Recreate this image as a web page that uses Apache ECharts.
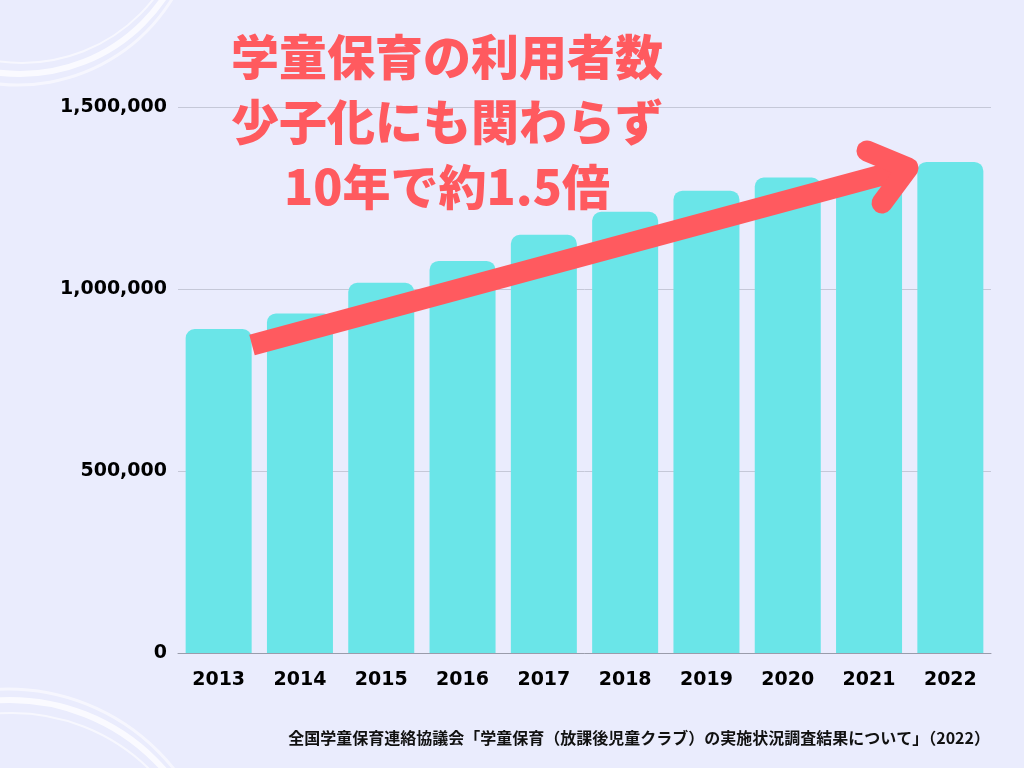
<!DOCTYPE html>
<html><head><meta charset="utf-8">
<script src="https://cdn.jsdelivr.net/npm/echarts@6/dist/echarts.min.js"></script>
<style>html,body{margin:0;padding:0;background:#eaecfd;}#c{width:1024px;height:768px;}</style>
</head><body><div id="c"></div>
<script>
const years = ['2013','2014','2015','2016','2017','2018','2019','2020','2021','2022'];
const users = [890000, 933000, 1017000, 1077000, 1149000, 1212000, 1270000, 1306000, 1300000, 1349000];
const yTicks = [0, 500000, 1000000, 1500000];
const titleLines = ['学童保育の利用者数', '少子化にも関わらず', '10年で約1.5倍'];
const sourceText = '全国学童保育連絡協議会「学童保育（放課後児童クラブ）の実施状況調査結果について」（2022）';

const chart = echarts.init(document.getElementById('c'), null, {renderer: 'canvas'});
const arcStyle = (w, o) => ({stroke: '#ffffff', fill: null, lineWidth: w, opacity: o});
const graphics = [
  {type: 'arc', shape: {cx: 20, cy: -100, r: 174, startAngle: 0, endAngle: Math.PI}, style: arcStyle(6, 0.75), z: 0},
  {type: 'arc', shape: {cx: 22, cy: -104, r: 167, startAngle: 0, endAngle: Math.PI}, style: arcStyle(2, 0.6), z: 0},
  {type: 'arc', shape: {cx: 18, cy: -96, r: 181, startAngle: 0.2, endAngle: Math.PI}, style: arcStyle(3, 0.55), z: 0},
  {type: 'arc', shape: {cx: 10, cy: 905, r: 205, startAngle: Math.PI, endAngle: 2 * Math.PI}, style: arcStyle(6, 0.75), z: 0},
  {type: 'arc', shape: {cx: 12, cy: 909, r: 196, startAngle: Math.PI, endAngle: 2 * Math.PI}, style: arcStyle(2, 0.6), z: 0},
  {type: 'arc', shape: {cx: 8, cy: 901, r: 212, startAngle: Math.PI, endAngle: 2 * Math.PI}, style: arcStyle(3, 0.55), z: 0},
  {type: 'polyline', shape: {points: [[252, 345], [908, 168]]}, style: {stroke: '#ff5a5f', lineWidth: 21, lineCap: 'butt'}, z: 100},
  {type: 'polyline', shape: {points: [[867, 151], [908, 168], [882, 203]]}, style: {stroke: '#ff5a5f', fill: null, lineWidth: 21, lineCap: 'round', lineJoin: 'round'}, z: 100},
  {type: 'text', x: 990, y: 738, z: 100, style: {text: sourceText, align: 'right', verticalAlign: 'middle', fontFamily: 'Noto Sans CJK JP', fontWeight: 'bold', fontSize: 16, fill: '#111111'}}
];
titleLines.forEach((t, i) => {
  graphics.push({type: 'text', x: 447, y: 57 + i * 65, z: 110, style: {
    text: t, align: 'center', verticalAlign: 'middle', fontFamily: 'Noto Sans CJK JP', fontWeight: 900, fontSize: 48,
    fill: '#ff5a5f', textShadowColor: '#f6a5b0', textShadowOffsetX: 3, textShadowOffsetY: 3, textShadowBlur: 0}});
});

chart.setOption({
  backgroundColor: '#eaecfd',
  animation: false,
  grid: {left: 178, right: 33, top: 107, bottom: 115},
  xAxis: {
    type: 'category', data: years,
    axisLine: {show: true, lineStyle: {color: '#9a9cab', width: 1}},
    axisTick: {show: false},
    axisLabel: {color: '#000', fontFamily: 'DejaVu Sans', fontWeight: 'bold', fontSize: 19, margin: 18}
  },
  yAxis: {
    type: 'value', min: yTicks[0], max: yTicks[yTicks.length - 1], interval: yTicks[1] - yTicks[0],
    axisLine: {show: false}, axisTick: {show: false},
    splitLine: {lineStyle: {color: '#c5c8d8', width: 1}},
    axisLabel: {color: '#000', fontFamily: 'DejaVu Sans', fontWeight: 'bold', fontSize: 19, margin: 11,
      formatter: v => v.toLocaleString('en-US')}
  },
  series: [{
    type: 'bar', data: users, barWidth: 66,
    itemStyle: {color: '#6ae5e8', borderRadius: [9, 9, 0, 0]}, z: 2
  }],
  graphic: graphics
});
</script></body></html>
